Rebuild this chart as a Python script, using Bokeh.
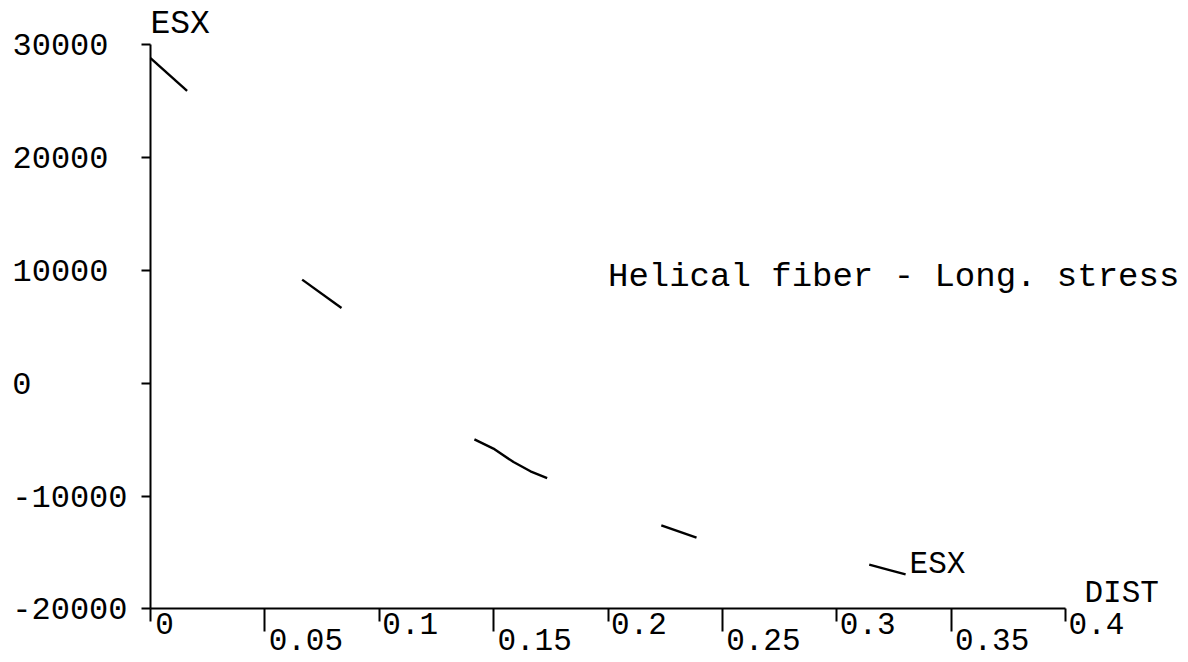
from bokeh.plotting import figure
from bokeh.models import Range1d, LinearAxis, FixedTicker, Label
from bokeh.embed import file_html
from bokeh.resources import INLINE

# ---------------- data ----------------
dist_1 = [0.0, 0.016]
esx_1 = [28800, 25900]
dist_2 = [0.0663, 0.0835]
esx_2 = [9170, 6650]
dist_3 = [0.1416, 0.1499, 0.1587, 0.1661, 0.1734]
esx_3 = [-4980, -5800, -6990, -7810, -8410]
dist_4 = [0.2233, 0.2387]
esx_4 = [-12600, -13690]
dist_5 = [0.3142, 0.3235, 0.3301]
esx_5 = [-16080, -16580, -16940]

x_major_ticks = [0, 0.1, 0.2, 0.3, 0.4]
x_major_labels = ["0", "0.1", "0.2", "0.3", "0.4"]
x_minor_ticks = [0.05, 0.15, 0.25, 0.35]
x_minor_labels = ["0.05", "0.15", "0.25", "0.35"]
y_ticks = [-20000, -10000, 0, 10000, 20000, 30000]
y_tick_labels = ["-20000", "-10000", "0", "10000", "20000", "30000"]

y_name = "ESX"
x_name = "DIST"
note = "Helical fiber - Long. stress"

# ---------------- layout ----------------
W, H = 1186, 660
FONT = "Liberation Mono"
x_px = 2287.5           # pixels per x unit
y_px = 564.4 / 50000.0  # pixels per y unit
x_org = 150             # px where x = 0
y_top = 44              # px where y = 30000

x_start = -x_org / x_px
x_end = x_start + W / x_px
y_end = y_ticks[-1] + y_top / y_px
y_start = y_end - H / y_px

p = figure(width=W, height=H, output_backend="svg", toolbar_location=None,
           x_axis_type=None, y_axis_type=None,
           x_range=Range1d(x_start, x_end), y_range=Range1d(y_start, y_end),
           min_border=0, outline_line_color=None)
p.background_fill_color = "white"
p.border_fill_color = "white"

# shifted ranges so that x tick labels sit to the right of their ticks
def shifted(px):
    d = px / x_px
    return Range1d(x_start - d, x_end - d)

p.extra_x_ranges = {"lab0": shifted(14), "labA": shifted(31), "labB": shifted(41)}

loc_x = y_ticks[0]
loc_y = x_major_ticks[0]

# main x axis: line and ticks
xa = LinearAxis(ticker=FixedTicker(ticks=x_major_ticks, minor_ticks=x_minor_ticks),
                fixed_location=loc_x, bounds=(x_major_ticks[0], x_major_ticks[-1]))
xa.axis_line_width = 2
xa.axis_line_color = "black"
xa.major_tick_line_width = 2
xa.minor_tick_line_width = 2
xa.major_tick_out = 13
xa.major_tick_in = 0
xa.minor_tick_out = 23
xa.minor_tick_in = 0
xa.major_label_text_color = None
p.add_layout(xa, "below")

def x_label_axis(ticks, labels, rname, standoff):
    ax = LinearAxis(x_range_name=rname, ticker=FixedTicker(ticks=ticks, minor_ticks=[]),
                    fixed_location=loc_x)
    ax.axis_line_color = None
    ax.major_tick_line_color = None
    ax.minor_tick_line_color = None
    ax.major_tick_out = 0
    ax.major_tick_in = 0
    ax.major_label_standoff = standoff
    ax.major_label_overrides = dict(zip(ticks, labels))
    ax.major_label_text_font = FONT
    ax.major_label_text_font_size = "31px"
    ax.major_label_text_color = "black"
    p.add_layout(ax, "below")

x_label_axis(x_major_ticks[:1], x_major_labels[:1], "lab0", 4)
x_label_axis(x_major_ticks[1:], x_major_labels[1:], "labA", 4)
x_label_axis(x_minor_ticks, x_minor_labels, "labB", 20)

# main y axis: line and ticks
ya = LinearAxis(ticker=FixedTicker(ticks=y_ticks, minor_ticks=[]),
                fixed_location=loc_y, bounds=(y_ticks[0], y_ticks[-1]))
ya.axis_line_width = 2
ya.axis_line_color = "black"
ya.major_tick_line_width = 2
ya.major_tick_out = 9
ya.major_tick_in = 0
ya.minor_tick_line_color = None
ya.major_label_text_color = None
p.add_layout(ya, "left")

# y tick labels, left aligned: one label axis per label length
groups = {}
for t, lab in zip(y_ticks, y_tick_labels):
    groups.setdefault(len(lab), []).append((t, lab))
for n, items in groups.items():
    ticks = [t for t, _ in items]
    labs = [l for _, l in items]
    ax = LinearAxis(ticker=FixedTicker(ticks=ticks, minor_ticks=[]), fixed_location=loc_y)
    ax.axis_line_color = None
    ax.major_tick_line_color = None
    ax.minor_tick_line_color = None
    ax.major_tick_out = 0
    ax.major_tick_in = 0
    ax.major_label_standoff = int(round(138 - 19.2 * n))
    ax.major_label_overrides = dict(zip(ticks, labs))
    ax.major_label_text_font = FONT
    ax.major_label_text_font_size = "32px"
    ax.major_label_text_color = "black"
    p.add_layout(ax, "left")

# data segments
for xs, ys in [(dist_1, esx_1), (dist_2, esx_2), (dist_3, esx_3), (dist_4, esx_4), (dist_5, esx_5)]:
    p.line(xs, ys, line_color="black", line_width=2.4)

# texts (anchored at their vertical middle)
p.add_layout(Label(x=x_major_ticks[0], y=y_ticks[-1], y_offset=20, text=y_name,
                   text_font=FONT, text_font_size="33px", text_baseline="middle",
                   text_color="black"))
p.add_layout(Label(x=dist_5[-1], y=esx_5[-1], x_offset=4, y_offset=10, text=y_name,
                   text_font=FONT, text_font_size="31px", text_baseline="middle",
                   text_color="black"))
p.add_layout(Label(x=x_major_ticks[-1], y=y_ticks[0], x_offset=19, y_offset=15, text=x_name,
                   text_font=FONT, text_font_size="31px", text_baseline="middle",
                   text_color="black"))
p.add_layout(Label(x=0.2, y=9400, text=note,
                   text_font=FONT, text_font_size="34px", text_baseline="middle",
                   text_color="black"))

open("out.html", "w").write(file_html(p, INLINE))
